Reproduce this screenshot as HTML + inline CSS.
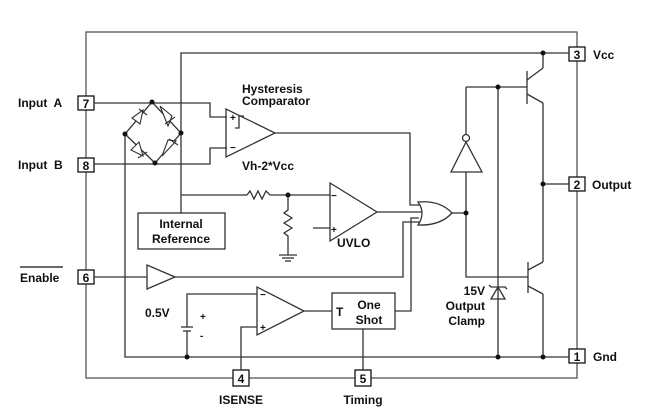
<!DOCTYPE html>
<html><head><style>
html,body{margin:0;padding:0;background:#fff}
svg{display:block}
text{font-family:"Liberation Sans",Arial,sans-serif;font-weight:bold;fill:#111;white-space:pre}
</style></head><body>
<svg width="659" height="420" viewBox="0 0 659 420" xmlns="http://www.w3.org/2000/svg">
<g fill="none" stroke="#333" stroke-width="1.3">
<rect x="86" y="32" width="491" height="346" stroke="#555"/>
<rect x="78" y="96" width="16" height="14" fill="#fff" stroke="#111"/>
<rect x="78" y="158" width="16" height="14" fill="#fff" stroke="#111"/>
<rect x="78" y="270" width="16" height="14" fill="#fff" stroke="#111"/>
<rect x="569" y="47" width="16" height="14" fill="#fff" stroke="#111"/>
<rect x="569" y="177" width="16" height="14" fill="#fff" stroke="#111"/>
<rect x="569" y="349" width="16" height="14" fill="#fff" stroke="#111"/>
<rect x="233" y="370" width="16" height="16" fill="#fff" stroke="#111"/>
<rect x="355" y="370" width="16" height="16" fill="#fff" stroke="#111"/>

<polyline points="181,213 181,53 569,53"/>
<line x1="543" y1="53" x2="543" y2="62"/>
<line x1="527" y1="71" x2="527" y2="104"/>
<line x1="527" y1="80" x2="543" y2="68"/><line x1="543" y1="68" x2="543" y2="62"/>
<line x1="527" y1="94" x2="543" y2="103"/>
<polyline points="543,103 543,262"/>
<line x1="466" y1="87" x2="527" y2="87"/>
<line x1="543" y1="184" x2="569" y2="184"/>
<line x1="528" y1="262" x2="528" y2="293"/>
<line x1="528" y1="270" x2="543" y2="262"/>
<line x1="528" y1="286" x2="543" y2="294"/>
<polyline points="543,294 543,357"/>
<line x1="466" y1="87" x2="466" y2="135"/>
<circle cx="466" cy="138" r="3.5"/>
<polygon points="466,142 451,172 482,172"/>
<polyline points="466,172 466,277 528,277"/>
<line x1="452" y1="213" x2="466" y2="213"/>
<line x1="498" y1="87" x2="498" y2="357"/>
<polygon points="498,287 491,299 505,299"/>
<polyline points="489,285 491,287 505,287 507,289"/>
<polyline points="125,134 125,357 569,357"/>
<polyline points="125,134 152,102 181,133 155,163 125,134"/>
<polyline points="94,103 210,103 210,117 227,117"/>
<polyline points="94,164 210,164 210,148 227,148"/>
<polygon points="226,109 226,157 275,133"/>
<polyline points="235,128 239,128 239,116 244,116"/>
<polyline points="275,133 410,133 410,205 420,205"/>
<rect x="138" y="213" width="87" height="36"/>
<line x1="181" y1="195" x2="247" y2="195"/>
<polyline points="247,195 250,191 254,199 258,191 262,199 266,191 270,195 330,195"/>
<polyline points="288,195 288,210 284,213 292,218 284,223 292,228 284,233 288,236 288,255"/>
<line x1="279" y1="255" x2="297" y2="255"/><line x1="282" y1="258" x2="294" y2="258"/><line x1="285" y1="261" x2="291" y2="261"/>
<polygon points="330,183 330,241 377,212"/>
<line x1="313" y1="228" x2="330" y2="228"/>
<line x1="377" y1="212" x2="422" y2="212"/>
<path d="M418,202 Q440,200 452,213 Q440,226 418,225 Q426,213 418,202 Z"/>
<polyline points="94,277 403,277 403,222 419,222"/>
<polygon points="147,265 147,289 175,277" fill="#fff"/>
<polygon points="257,287 257,335 304,311"/>
<polyline points="187,327 187,294 257,294"/>
<line x1="181" y1="327" x2="193" y2="327"/>
<line x1="183" y1="331" x2="191" y2="331"/>
<line x1="187" y1="331" x2="187" y2="357"/>
<polyline points="257,327 241,327 241,370"/>
<line x1="304" y1="311" x2="332" y2="311"/>
<rect x="332" y="293" width="63" height="36"/>
<polyline points="395,311 411,311 411,218 419,218"/>
<line x1="363" y1="329" x2="363" y2="370"/>
</g>
<g fill="#111">
<circle cx="543" cy="53" r="2.5"/><circle cx="498" cy="87" r="2.5"/><circle cx="543" cy="184" r="2.5"/>
<circle cx="466" cy="213" r="2.5"/><circle cx="498" cy="357" r="2.5"/><circle cx="543" cy="357" r="2.5"/>
<circle cx="187" cy="357" r="2.5"/><circle cx="152" cy="102" r="2.5"/><circle cx="181" cy="133" r="2.5"/>
<circle cx="155" cy="163" r="2.5"/><circle cx="125" cy="134" r="2.5"/><circle cx="288" cy="195" r="2.5"/>
</g>
<g fill="#fff" stroke="#333" stroke-width="1.1">
<polygon points="132,118 140,124 143,110"/><line x1="139" y1="109" x2="147" y2="115"/>
<polygon points="160,106 168,126 172,116"/><line x1="165" y1="124" x2="175" y2="117"/>
<polygon points="131,150 139,142 143,156"/><line x1="138" y1="158" x2="147" y2="152"/>
<polygon points="162,156 176,141 168,140"/><line x1="169" y1="139" x2="178" y2="145"/>
</g>
<g font-size="12">
<text x="18" y="107">Input  A</text>
<text x="18" y="169">Input  B</text>
<text x="20" y="282">Enable</text>
<text x="242" y="93">Hysteresis</text>
<text x="242" y="105">Comparator</text>
<text x="242" y="170">Vh-2*Vcc</text>
<text x="181" y="228" text-anchor="middle">Internal</text>
<text x="181" y="243" text-anchor="middle">Reference</text>
<text x="337" y="247">UVLO</text>
<text x="145" y="317">0.5V</text>
<text x="336" y="316">T</text>
<text x="369" y="309" text-anchor="middle">One</text>
<text x="369" y="324" text-anchor="middle">Shot</text>
<text x="485" y="295" text-anchor="end">15V</text>
<text x="485" y="310" text-anchor="end">Output</text>
<text x="485" y="325" text-anchor="end">Clamp</text>
<text x="593" y="59">Vcc</text>
<text x="592" y="189">Output</text>
<text x="593" y="361">Gnd</text>
<text x="241" y="404" text-anchor="middle">ISENSE</text>
<text x="363" y="404" text-anchor="middle">Timing</text>
<text x="86" y="108" text-anchor="middle">7</text>
<text x="86" y="170" text-anchor="middle">8</text>
<text x="86" y="282" text-anchor="middle">6</text>
<text x="577" y="59" text-anchor="middle">3</text>
<text x="577" y="189" text-anchor="middle">2</text>
<text x="577" y="361" text-anchor="middle">1</text>
<text x="241" y="383" text-anchor="middle">4</text>
<text x="363" y="383" text-anchor="middle">5</text>
</g>
<line x1="20" y1="267" x2="63" y2="267" stroke="#111" stroke-width="1.2"/>
<g font-size="10" font-weight="normal">
<text x="230" y="121">+</text><text x="230" y="151">−</text>
<text x="331" y="199">−</text><text x="331" y="233">+</text>
<text x="260" y="298">−</text><text x="260" y="331">+</text>
<text x="200" y="320">+</text><text x="200" y="339">-</text>
</g>
</svg>
</body></html>
